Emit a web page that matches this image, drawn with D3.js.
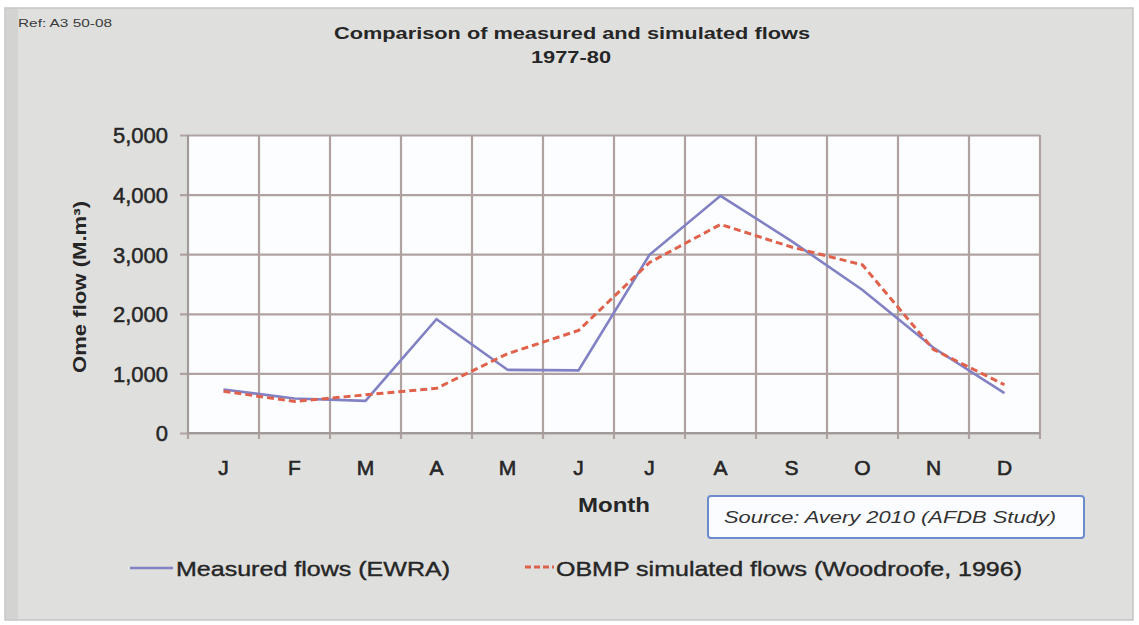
<!DOCTYPE html>
<html>
<head>
<meta charset="utf-8">
<script src="https://cdn.jsdelivr.net/npm/d3@7/dist/d3.min.js"></script>
<style>
  html, body { margin: 0; padding: 0; background: #ffffff; }
  svg { display: block; font-family: "Liberation Sans", Arial, sans-serif; }
</style>
</head>
<body>
<svg id="chart" width="1139" height="625"></svg>
<script>
// ---- data ----
const months = ["J", "F", "M", "A", "M", "J", "J", "A", "S", "O", "N", "D"];
const measured = [730, 580, 540, 1910, 1060, 1050, 2990, 3980, 3220, 2400, 1430, 670];
const simulated = [700, 530, 640, 750, 1330, 1720, 2860, 3500, 3120, 2820, 1400, 810];
const yTicks = [0, 1000, 2000, 3000, 4000, 5000];
const seriesNames = ["Measured flows (EWRA)", "OBMP simulated flows (Woodroofe, 1996)"];
const titleLines = ["Comparison of measured and simulated flows", "1977-80"];
const refText = "Ref: A3 50-08";
const yTitle = "Ome flow (M.m\u00B3)";
const xTitle = "Month";
const sourceText = "Source: Avery 2010 (AFDB Study)";

// ---- layout ----
const svg = d3.select("#chart");
const plot = { left: 188, right: 1040, top: 135, bottom: 433 };
const textColor = "#262626";
const gridColor = "#b0a2a0";
const blue = "#8181c4";
const red = "#e0624c";

// background frame
svg.append("rect").attr("x", 5).attr("y", 8).attr("width", 1128).attr("height", 612)
  .attr("fill", "#dfe0de").attr("stroke", "#c4c5c3").attr("stroke-width", 1.5);
svg.append("rect").attr("x", 6).attr("y", 9).attr("width", 12).attr("height", 610)
  .attr("fill", "#d3d4d2");

// scales
const x = d3.scaleBand().domain(d3.range(months.length)).range([plot.left, plot.right]).padding(0);
const y = d3.scaleLinear().domain([0, 5000]).range([plot.bottom, plot.top]);
const cx = i => x(i) + x.bandwidth() / 2;

// plot area
svg.append("rect").attr("x", plot.left).attr("y", plot.top)
  .attr("width", plot.right - plot.left).attr("height", plot.bottom - plot.top)
  .attr("fill", "#fcfdff");

// horizontal grid + y axis
const yAxis = d3.axisLeft(y).tickValues(yTicks).tickFormat(d3.format(","))
  .tickSize(-(plot.right - plot.left)).tickPadding(14);
const gy = svg.append("g").attr("transform", `translate(${plot.left},0)`).call(yAxis);
gy.select(".domain").remove();
gy.selectAll(".tick line").attr("stroke", gridColor).attr("stroke-width", 2.2)
  .attr("x1", -8);
gy.selectAll(".tick text").attr("fill", textColor).attr("font-size", 22)
  .attr("stroke", textColor).attr("stroke-width", 0.5)
  .attr("x", -20).attr("dy", "0.36em");

// vertical grid lines at band edges
const edges = d3.range(months.length + 1).map(i => i < months.length ? x(i) : plot.right);
svg.append("g").selectAll("line").data(edges).join("line")
  .attr("x1", d => d).attr("x2", d => d)
  .attr("y1", plot.top).attr("y2", plot.bottom + 6)
  .attr("stroke", gridColor).attr("stroke-width", 2.2);

// axis lines
svg.append("line").attr("x1", plot.left).attr("x2", plot.right)
  .attr("y1", plot.bottom).attr("y2", plot.bottom)
  .attr("stroke", "#a09a98").attr("stroke-width", 2);
svg.append("line").attr("x1", plot.left).attr("x2", plot.left)
  .attr("y1", plot.top).attr("y2", plot.bottom)
  .attr("stroke", "#a09a98").attr("stroke-width", 2);

// x labels
svg.append("g").selectAll("text").data(months).join("text")
  .attr("x", (d, i) => cx(i)).attr("y", 475)
  .attr("text-anchor", "middle").attr("font-size", 21)
  .attr("stroke", textColor).attr("stroke-width", 0.6)
  .attr("fill", textColor).text(d => d);

// lines
const line = d3.line().x((d, i) => cx(i)).y(d => y(d));
svg.append("path").datum(measured).attr("d", line)
  .attr("fill", "none").attr("stroke", blue).attr("stroke-width", 2.6)
  .attr("stroke-linejoin", "miter");
svg.append("path").datum(simulated).attr("d", line)
  .attr("fill", "none").attr("stroke", red).attr("stroke-width", 3)
  .attr("stroke-dasharray", "7,4");

// titles
svg.append("text").attr("x", 572).attr("y", 39).attr("text-anchor", "middle")
  .attr("font-size", 16).attr("font-weight", "bold").attr("fill", textColor)
  .attr("textLength", 476).attr("lengthAdjust", "spacingAndGlyphs").text(titleLines[0]);
svg.append("text").attr("x", 571).attr("y", 63).attr("text-anchor", "middle")
  .attr("font-size", 16).attr("font-weight", "bold").attr("fill", textColor)
  .attr("textLength", 80).attr("lengthAdjust", "spacingAndGlyphs").text(titleLines[1]);
svg.append("text").attr("x", 18).attr("y", 27)
  .attr("font-size", 10).attr("fill", "#3a3a3a")
  .attr("textLength", 94).attr("lengthAdjust", "spacingAndGlyphs").text(refText);

// axis titles
svg.append("text").attr("transform", "translate(86,287) rotate(-90)")
  .attr("text-anchor", "middle").attr("font-size", 18).attr("font-weight", "bold")
  .attr("fill", textColor).attr("textLength", 172).attr("lengthAdjust", "spacingAndGlyphs")
  .text(yTitle);
svg.append("text").attr("x", 614).attr("y", 512).attr("text-anchor", "middle")
  .attr("font-size", 21).attr("font-weight", "bold").attr("fill", textColor)
  .attr("textLength", 72).attr("lengthAdjust", "spacingAndGlyphs").text(xTitle);

// source box
svg.append("rect").attr("x", 708).attr("y", 496).attr("width", 376).attr("height", 42)
  .attr("rx", 3).attr("fill", "#fbfcff").attr("stroke", "#6a8ccc").attr("stroke-width", 2);
svg.append("text").attr("x", 724).attr("y", 523)
  .attr("font-size", 17).attr("font-style", "italic").attr("fill", "#333")
  .attr("textLength", 332).attr("lengthAdjust", "spacingAndGlyphs").text(sourceText);

// legend
const leg = svg.append("g");
leg.append("line").attr("x1", 130).attr("x2", 173).attr("y1", 568).attr("y2", 568)
  .attr("stroke", blue).attr("stroke-width", 2.6);
leg.append("text").attr("x", 176).attr("y", 576).attr("font-size", 21).attr("fill", textColor)
  .attr("stroke", textColor).attr("stroke-width", 0.4)
  .attr("textLength", 274).attr("lengthAdjust", "spacingAndGlyphs").text(seriesNames[0]);
leg.append("line").attr("x1", 525).attr("x2", 554).attr("y1", 567).attr("y2", 567)
  .attr("stroke", red).attr("stroke-width", 3).attr("stroke-dasharray", "6,3");
leg.append("text").attr("x", 556).attr("y", 576).attr("font-size", 21).attr("fill", textColor)
  .attr("stroke", textColor).attr("stroke-width", 0.4)
  .attr("textLength", 466).attr("lengthAdjust", "spacingAndGlyphs").text(seriesNames[1]);
</script>
</body>
</html>
